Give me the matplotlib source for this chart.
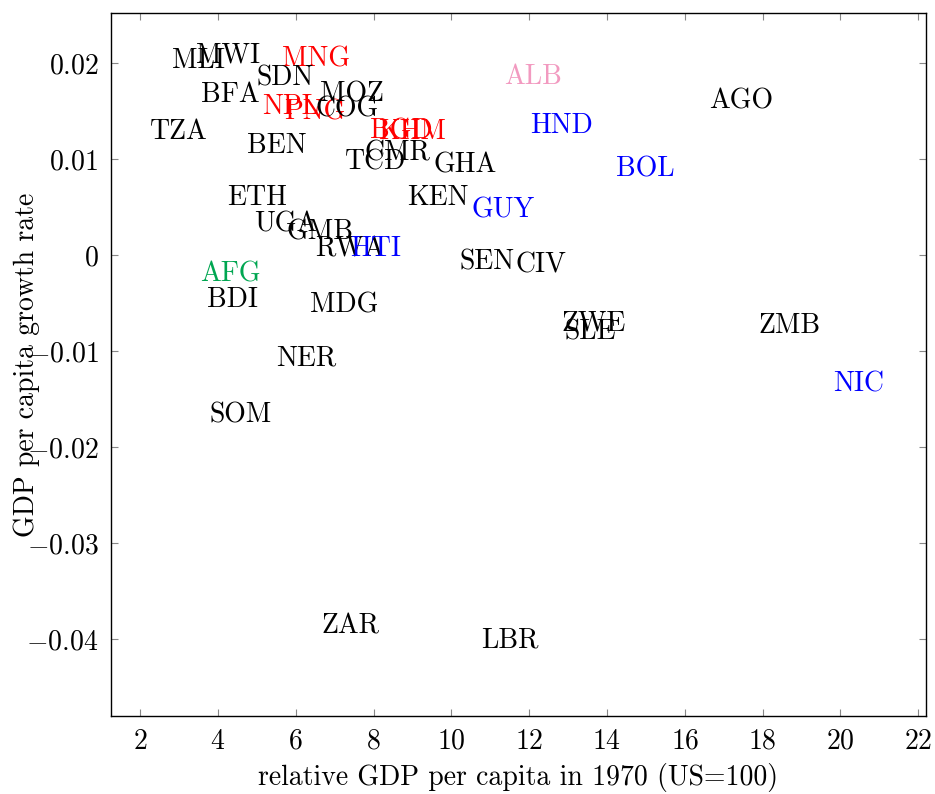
import matplotlib
matplotlib.use("Agg")
import matplotlib.pyplot as plt
from matplotlib.ticker import FuncFormatter
from matplotlib.transforms import offset_copy

plt.rcParams['font.family'] = 'serif'
plt.rcParams['font.serif'] = ['cmr10']
plt.rcParams['mathtext.fontset'] = 'cm'
plt.rcParams['axes.formatter.use_mathtext'] = True

# country codes, relative GDP per capita 1970 (US=100), growth rate
codes = ['MLI', 'MWI', 'MNG', 'SDN', 'BFA', 'NPL', 'PNG', 'MOZ', 'COG', 'TZA',
         'BEN', 'BGD', 'KHM', 'CMR', 'TCD', 'GHA', 'ETH', 'UGA', 'GMB', 'RWA',
         'HTI', 'KEN', 'GUY', 'AFG', 'BDI', 'MDG', 'SEN', 'CIV', 'ZWE', 'SLE',
         'ZMB', 'NER', 'SOM', 'ZAR', 'LBR', 'NIC', 'AGO', 'ALB', 'HND', 'BOL']
gdp70 = [3.49, 4.26, 6.52, 5.73, 4.31, 5.88, 6.50, 7.45, 7.32, 3.00,
         5.50, 8.70, 9.00, 8.61, 8.04, 10.35, 5.01, 5.75, 6.63, 7.40,
         8.04, 9.64, 11.33, 4.31, 4.37, 7.24, 10.92, 12.31, 13.67, 13.57,
         18.68, 6.27, 4.57, 7.40, 11.51, 20.46, 17.45, 12.10, 12.82, 14.98]
growth = [0.0205, 0.0211, 0.0206, 0.0187, 0.0169, 0.0157, 0.0151, 0.0170, 0.0154, 0.0131,
          0.0116, 0.0131, 0.0131, 0.0108, 0.0099, 0.0096, 0.0062, 0.0035, 0.0026, 0.0009,
          0.0009, 0.0062, 0.0049, -0.0018, -0.0044, -0.0050, -0.0005, -0.0008, -0.0069, -0.0078,
          -0.0071, -0.0105, -0.0164, -0.0384, -0.0399, -0.0132, 0.0163, 0.0188, 0.0137, 0.0092]

highlight = {'MNG': 'red', 'NPL': 'red', 'PNG': 'red', 'BGD': 'red', 'KHM': 'red',
             'HTI': 'blue', 'GUY': 'blue', 'NIC': 'blue', 'HND': 'blue', 'BOL': 'blue',
             'AFG': '#00A651', 'ALB': '#F29AC0'}

fig = plt.figure(figsize=(9.35, 7.94), dpi=100)
ax = fig.add_axes([111 / 935, 78 / 794, 815 / 935, 703 / 794])

# nudge labels down a little, like the tikz node anchors
tr = offset_copy(ax.transData, fig=fig, x=0, y=-2.5, units='dots')
for c, x, y in zip(codes, gdp70, growth):
    ax.text(x, y, c, ha='center', va='center', fontsize=20, transform=tr,
            color=highlight.get(c, 'black'))

ax.set_xlim(1.25, 22.2)
ax.set_ylim(-0.048, 0.0252)
ax.set_xticks(range(2, 23, 2))
ax.set_yticks([-0.04, -0.03, -0.02, -0.01, 0, 0.01, 0.02])
ax.yaxis.set_major_formatter(FuncFormatter(
    lambda v, p: '$0$' if abs(v) < 1e-9 else '$%.2f$' % v))
ax.xaxis.set_major_formatter(FuncFormatter(lambda v, p: '$%d$' % v))
ax.tick_params(direction='in', top=True, right=True, length=5, color='#888888',
               labelsize=20, pad=9)
for s in ax.spines.values():
    s.set_linewidth(1.0)

ax.set_xlabel('relative GDP per capita in 1970 (US=100)', fontsize=20, labelpad=6)
ax.set_ylabel('GDP per capita growth rate', fontsize=20)
ax.yaxis.set_label_coords(-0.087, 0.5)

fig.savefig('out.png', dpi=100)
